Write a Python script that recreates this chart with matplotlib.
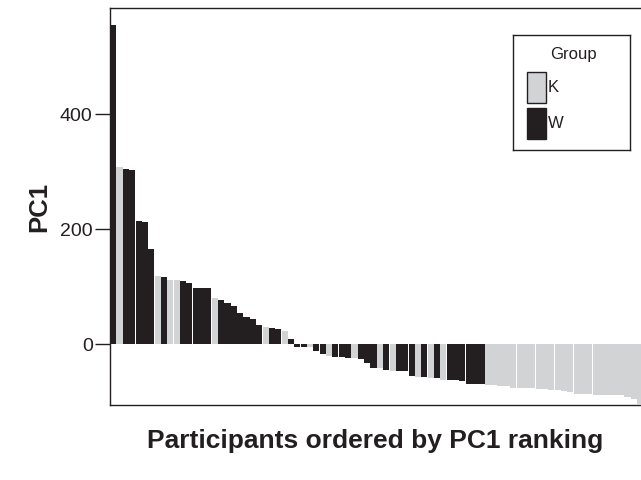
import matplotlib
matplotlib.use("Agg")
import matplotlib.pyplot as plt
from matplotlib.patches import Rectangle
import numpy as np

plt.rcParams['font.family'] = ['Liberation Sans', 'DejaVu Sans']

# PC1 score of each participant, already ordered by ranking
pc1 = [555, 309, 305, 303, 214, 213, 166, 119, 117, 112,
       112, 110, 107, 98, 98, 98, 80.5, 77, 72, 66.5,
       54.5, 47.5, 44, 33.5, 30, 28, 26.5, 23, 9, -4,
       -4, -4.5, -12.5, -16.5, -20.5, -21.5, -21.5, -23, -23, -25,
       -32, -40.5, -40.5, -44, -46, -46, -46, -54.5, -56.5, -56.5,
       -58.5, -58.5, -61.5, -61.5, -61.5, -63, -68.5, -68.5, -68.5, -70,
       -70.5, -72, -73, -75.5, -75.5, -75.5, -75.5, -77, -77, -79,
       -79, -81, -82.5, -86, -86, -86, -87.5, -87.5, -87.5, -87.5,
       -87.5, -91, -94.5, -103]

# group membership of each participant, in the same order
group = list("W" "K" "WWWWW" "K" "W" "KK" "WWWWW" "K" "WWWWWWW" "K" "WW" "K"
             "WWW" "K" "WW" "K" "WWW" "K" "WWW" "K" "W" "K" "WWW" "K" "W" "K"
             "W" "K" "WWWWWW" "KKKKKKKKKKKKKKKKKKKKKKKKK")

group_colors = {"K": "#d1d3d4", "W": "#231f20"}
group_labels = ["K", "W"]
yticks = [0, 200, 400]

fig = plt.figure(figsize=(6.41, 4.80), dpi=100)
ax = fig.add_axes([110 / 641, 1 - 405 / 480, 531 / 641, 397 / 480])

x = np.arange(1, len(pc1) + 1)
ax.bar(x, pc1, width=0.96, color=[group_colors[g] for g in group],
       linewidth=0)

ax.set_xlim(0.5, 0.5 + 531 / 6.35)
ax.set_ylim(-105.6, 585)
ax.set_xticks([])
ax.set_yticks(yticks)
ax.set_yticklabels([str(t) for t in yticks], fontsize=14, color="#231f20")
ax.tick_params(axis="y", length=11, width=1, color="#231f20", pad=1.5)
for side in ["left", "top", "bottom"]:
    ax.spines[side].set_color("#231f20")
    ax.spines[side].set_linewidth(1)
ax.spines["right"].set_visible(False)

ax.set_ylabel("PC1", fontsize=18.5, fontweight="bold", color="#231f20", labelpad=6)
ax.set_xlabel("Participants ordered by PC1 ranking", fontsize=19,
              fontweight="bold", color="#231f20", labelpad=17)

# legend box
lg = fig.add_axes([513 / 641, 1 - 150 / 480, 117 / 641, 115 / 480])
lg.set_xlim(0, 117)
lg.set_ylim(115, 0)
lg.set_xticks([])
lg.set_yticks([])
for sp in lg.spines.values():
    sp.set_color("#231f20")
    sp.set_linewidth(1)
lg.text(60, 20, "Group", ha="center", va="center", fontsize=12, color="#231f20")
for i, g in enumerate(group_labels):
    top = 37 + i * 36
    lg.add_patch(Rectangle((14, top), 19, 31, facecolor=group_colors[g],
                           edgecolor="#231f20", linewidth=1))
    lg.text(35, top + 16, g, ha="left", va="center", fontsize=12, color="#231f20")

fig.savefig("out.png", dpi=100)
